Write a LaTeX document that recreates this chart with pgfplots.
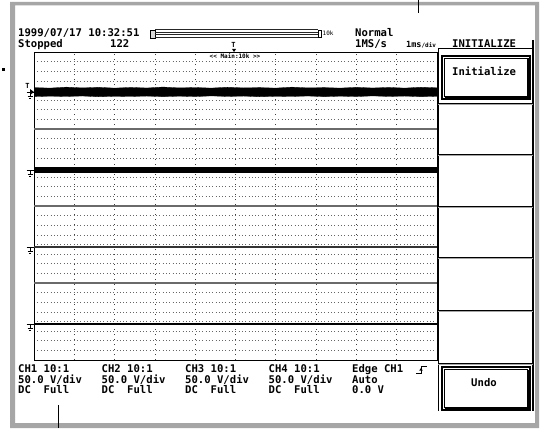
\documentclass[border=0pt]{standalone}
\usepackage{pgfplots}
\pgfplotsset{compat=1.18}
\usepackage{fontspec}
\newfontfamily\scrfont{DejaVu Sans Mono}
\newcommand\osc{\scrfont\bfseries\fontsize{10.6}{12}\selectfont}
\newcommand\oscs{\scrfont\fontsize{6}{7}\selectfont}
\newcommand\oscm{\scrfont\bfseries\fontsize{7}{8}\selectfont}
\definecolor{framegray}{HTML}{A6A6A6}
\definecolor{divgray}{HTML}{6A6A6A}
\begin{document}
\begin{tikzpicture}
\path[use as bounding box] (0pt,0pt) rectangle (543pt,-428pt);
\begin{scope}[x=1pt,y=-1pt]
\fill[white] (0,0) rectangle (543,428);
% outer gray frame
\fill[framegray,even odd rule] (10,2) rectangle (539,428) (15,5.5) rectangle (535,423);
% leader lines
\draw[black,line width=1pt] (418,0) -- (418,13);
\draw[black,line width=1pt] (58,405) -- (58,428);
\fill[black] (2,68) rectangle (4.5,70.5);
\end{scope}

\begin{axis}[at={(34pt,-360pt)}, anchor=south west,
  width=403pt, height=308pt, scale only axis,
  xmin=0, xmax=10, ymin=0, ymax=32,
  xtick={1,...,9}, ytick={1,...,31},
  xticklabels={}, yticklabels={},
  major tick length=0pt, grid=major,
  x grid style={black!75, line width=0.7pt, dash pattern=on 0.7pt off 4.3pt},
  y grid style={black!60, line width=0.7pt, dash pattern=on 0.7pt off 2.6pt},
  extra y ticks={8,16,24}, extra y tick labels={},
  extra y tick style={y grid style={solid, divgray, line width=1.3pt}},
  axis line style={black, line width=0.9pt},
  clip=true]
% CH1 noisy band
\addplot[fill=black, draw=black, line width=0.3pt] coordinates {
 (0,28.30) (0.4,28.25) (0.8,28.35) (1.2,28.27) (1.6,28.33) (2.0,28.25) (2.4,28.32)
 (2.8,28.26) (3.2,28.36) (3.6,28.27) (4.0,28.31) (4.4,28.25) (4.8,28.34) (5.2,28.27)
 (5.6,28.30) (6.0,28.25) (6.4,28.35) (6.8,28.27) (7.2,28.30) (7.6,28.25) (8.0,28.33)
 (8.4,28.26) (8.8,28.32) (9.2,28.25) (9.6,28.34) (10,28.28)
 (10,27.40) (9.6,27.36) (9.2,27.42) (8.8,27.38) (8.4,27.44) (8.0,27.37) (7.6,27.41)
 (7.2,27.36) (6.8,27.43) (6.4,27.38) (6.0,27.40) (5.6,27.35) (5.2,27.42) (4.8,27.38)
 (4.4,27.44) (4.0,27.37) (3.6,27.41) (3.2,27.36) (2.8,27.42) (2.4,27.38) (2.0,27.40)
 (1.6,27.35) (1.2,27.43) (0.8,27.38) (0.4,27.41) (0,27.37)} -- cycle;
% CH2 band
\addplot[black, line width=6pt] coordinates {(0,19.77) (10,19.77)};
% CH3
\addplot[black!80, line width=1.1pt] coordinates {(0,11.74) (10,11.74)};
% CH4
\addplot[black, line width=1.5pt] coordinates {(0,3.74) (10,3.74)};
\end{axis}

\begin{scope}[x=1pt,y=-1pt]
% grid header label
\node[fill=white, inner sep=0.6pt, anchor=base] at (235,59) {\oscs\bfseries << Main:10k >>};
% trigger position marker
\node[anchor=base, inner sep=0] at (233.5,48) {\oscm T};
\fill[black] (232,49) -- (236,49) -- (234,52) -- cycle;
% left markers
\node[anchor=base, inner sep=0] at (27.5,88.5) {\oscm T};
\fill[black] (30,89) -- (34,92) -- (30,95) -- cycle;
\foreach \L in {92,169.5,247,324}{
  \draw[black, line width=0.9pt] (26.5,\L+0.5) -- (33.5,\L+0.5);
  \draw[black, line width=0.9pt] (30,\L+0.5) -- (30,\L+4.5);
  \draw[black, line width=0.9pt] (27.5,\L+4.5) -- (32.5,\L+4.5);
  \draw[black, line width=0.9pt] (28.8,\L+6.8) -- (31.2,\L+6.8);
}
% top texts
\node[anchor=base west, inner sep=0] at (18,37) {\osc 1999/07/17 10:32:51};
\node[anchor=base west, inner sep=0] at (18,47.5) {\osc Stopped};
\node[anchor=base west, inner sep=0] at (110,47.5) {\osc 122};
\node[anchor=base west, inner sep=0] at (355,37) {\osc Normal};
\node[anchor=base west, inner sep=0] at (355,47.5) {\osc 1MS/s};
\node[anchor=base west, inner sep=0] at (406,47.5) {\scrfont\bfseries\fontsize{8.5}{9}\selectfont 1ms\oscs /div};
% record bar
\fill[gray!30] (150,30) rectangle (155,38.5);
\draw[black, line width=0.7pt] (150,30) rectangle (155,38.5);
\foreach \yy in {29.5,32.2,34.9,37.6}{\draw[black!85, line width=0.9pt] (155,\yy) -- (318,\yy);}
\draw[black, line width=0.8pt] (318,30.5) rectangle (321,37);
\node[anchor=base west, inner sep=0] at (322.5,36) {\oscs 10k};
% menu
\draw[black, line width=1pt] (438,49) -- (438,411);
\draw[black, line width=1.6pt] (533,40) -- (533,411);
\draw[black, line width=1pt] (438,48.8) -- (533,48.8);
\node[anchor=base west, inner sep=0] at (452,47.5) {\osc INITIALIZE};
\foreach \yy in {103,154.5,206,257.5,310,363}{
  \draw[black, line width=1pt] (438,\yy) -- (533,\yy);
  \draw[framegray, line width=1pt] (438,\yy+1.2) -- (533,\yy+1.2);
}
% buttons
\foreach \ya/\yb in {56/99, 367/410}{
  \draw[black, line width=1.2pt] (442,\ya) rectangle (530,\yb);
  \draw[black, line width=0.7pt] (444.5,\ya+2.5) rectangle (527.5,\yb-2.5);
  \draw[black, line width=1.6pt] (444.5,\yb-1.2) -- (528.8,\yb-1.2) -- (528.8,\ya+2.5);
}
\node[anchor=base west, inner sep=0] at (452,75.5) {\osc Initialize};
\node[anchor=base, inner sep=0] at (484,386) {\osc Undo};
% bottom texts
\foreach \xx/\c in {18/1,101.5/2,185/3,268.5/4}{
  \node[anchor=base west, inner sep=0] at (\xx,372.5) {\osc CH\c{} 10:1};
  \node[anchor=base west, inner sep=0] at (\xx,383) {\osc 50.0 V/div};
  \node[anchor=base west, inner sep=0] at (\xx,393.5) {\osc DC\ \ Full};
}
\node[anchor=base west, inner sep=0] at (352,372.5) {\osc Edge CH1};
\node[anchor=base west, inner sep=0] at (352,383) {\osc Auto};
\node[anchor=base west, inner sep=0] at (352,393.5) {\osc 0.0 V};
\draw[black, line width=0.9pt] (416,373) -- (421,373) -- (421,366) -- (427,366);
\fill[black] (419.3,370.5) -- (422.7,370.5) -- (421,368) -- cycle;
\end{scope}
\end{tikzpicture}
\end{document}
